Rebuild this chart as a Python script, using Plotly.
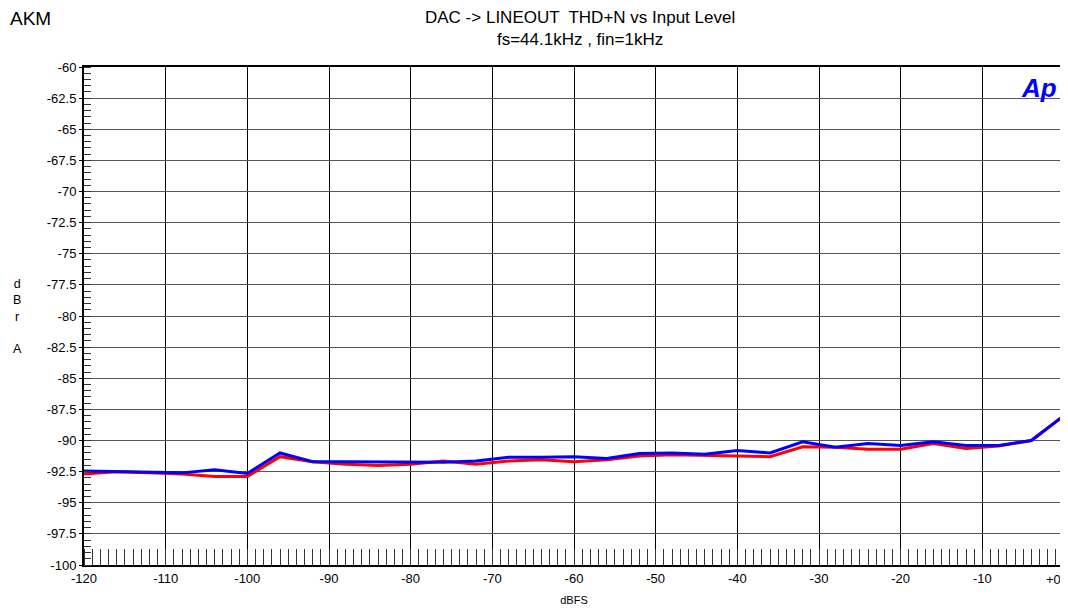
"""DAC -> LINEOUT THD+N vs Input Level (AKM), Audio Precision style plot."""

import plotly.graph_objects as go

# ── Data ──────────────────────────────────────────────────────────────────────
LEVEL_DBFS = [-120, -116, -112, -108, -104, -100, -96, -92, -88, -84, -80,
              -76, -72, -68, -64, -60, -56, -52, -48, -44, -40, -36, -32,
              -28, -24, -20, -16, -12, -8, -4, 0]

THDN_RED = [-92.7, -92.5, -92.6, -92.7, -92.9, -92.9, -91.3, -91.7, -91.9,
            -92.0, -91.9, -91.65, -91.9, -91.65, -91.55, -91.7, -91.55,
            -91.25, -91.15, -91.2, -91.3, -91.3, -90.5, -90.55, -90.7,
            -90.7, -90.25, -90.65, -90.45, -90.0, -88.0]

THDN_BLUE = [-92.45, -92.5, -92.6, -92.6, -92.35, -92.65, -91.0, -91.7,
             -91.7, -91.7, -91.7, -91.75, -91.65, -91.35, -91.35, -91.3,
             -91.45, -91.05, -91.0, -91.1, -90.8, -91.0, -90.1, -90.55,
             -90.25, -90.4, -90.1, -90.4, -90.4, -90.0, -88.0]

X_TICKS = list(range(-120, 1, 10))
# the "+0" label sits left of the axis end in the original, drawn separately
X_TICK_TEXT = [str(v) for v in X_TICKS[:-1]] + [""]
X_END_LABEL = "+0"
Y_TICKS = [-60 - 2.5 * i for i in range(17)]
Y_TICK_TEXT = [f"{v:g}" for v in Y_TICKS]

FONT = "Liberation Sans, Arial, sans-serif"

# page body has an 8 px margin, so the figure is sized to fit inside it
FIG_W, FIG_H = 1060, 607
M_L, M_R, M_T, M_B = 76, 4, 59, 50
PLOT_W = FIG_W - M_L - M_R
PLOT_H = FIG_H - M_T - M_B


def px_to_paper(x_px, y_px):
    """Figure pixel position -> paper coordinates."""
    return (x_px - M_L) / PLOT_W, (FIG_H - M_B - y_px) / PLOT_H


fig = go.Figure()

fig.add_trace(go.Scatter(
    x=LEVEL_DBFS, y=THDN_RED, mode="lines", name="Ch1",
    line=dict(color="#ff0000", width=3),
))
fig.add_trace(go.Scatter(
    x=LEVEL_DBFS, y=THDN_BLUE, mode="lines", name="Ch2",
    line=dict(color="#0000ff", width=3),
))

fig.update_layout(
    width=FIG_W, height=FIG_H,
    margin=dict(l=M_L, r=M_R, t=M_T, b=M_B),
    showlegend=False,
    plot_bgcolor="white",
    paper_bgcolor="white",
    font=dict(family=FONT, size=13, color="black"),
)

fig.update_xaxes(
    range=[-120, 0],
    automargin=False,
    tickvals=X_TICKS, ticktext=X_TICK_TEXT,
    ticks="", showgrid=True, gridcolor="#000000", gridwidth=1,
    showline=True, linecolor="black", linewidth=2, mirror=True,
    zeroline=False,
    minor=dict(ticks="inside", dtick=1, tick0=0, ticklen=16,
               tickcolor="#333333", tickwidth=1, showgrid=False),
    tickfont=dict(size=13),
    title=dict(text="dBFS", font=dict(size=11), standoff=12),
)
fig.update_yaxes(
    range=[-100, -60],
    automargin=False,
    tickvals=Y_TICKS, ticktext=Y_TICK_TEXT,
    ticks="outside", ticklen=3, tickcolor="black",
    showgrid=True, gridcolor="#555555", gridwidth=1,
    showline=True, linecolor="black", linewidth=2, mirror=True,
    zeroline=False,
    minor=dict(ticks="inside", dtick=0.5, tick0=0, ticklen=7,
               tickcolor="#333333", tickwidth=1, showgrid=False),
    tickfont=dict(size=13),
)

# "+0" end label, nudged left so it stays on the page
fig.add_annotation(
    text=X_END_LABEL, xref="x", yref="paper", x=X_TICKS[-1], y=0,
    xanchor="center", yanchor="top", xshift=-11, yshift=-5,
    showarrow=False, font=dict(size=13),
)

# Titles and labels
ax, ay = px_to_paper(0, 10)
fig.add_annotation(
    text="AKM", xref="paper", yref="paper", x=ax, y=ay,
    xanchor="left", yanchor="middle", showarrow=False,
    font=dict(size=19),
)
tx, ty = px_to_paper(572, 21)
fig.add_annotation(
    text="DAC -> LINEOUT  THD+N vs Input Level<br>fs=44.1kHz , fin=1kHz",
    xref="paper", yref="paper", x=tx, y=ty,
    xanchor="center", yanchor="middle", showarrow=False,
    font=dict(size=17),
)
dx, dy = px_to_paper(9, 308)
fig.add_annotation(
    text="d<br>B<br>r<br><br>A", xref="paper", yref="paper",
    x=dx, y=dy, xanchor="center", yanchor="middle",
    showarrow=False, font=dict(size=12.5),
)
lx, ly = px_to_paper(1051, 63)
fig.add_annotation(
    text="<b><i>Ap</i></b>", xref="paper", yref="paper", x=lx, y=ly,
    xanchor="right", yanchor="top", showarrow=False,
    font=dict(size=26, color="#0000ff", family=FONT),
)

fig.write_html("out.html")
